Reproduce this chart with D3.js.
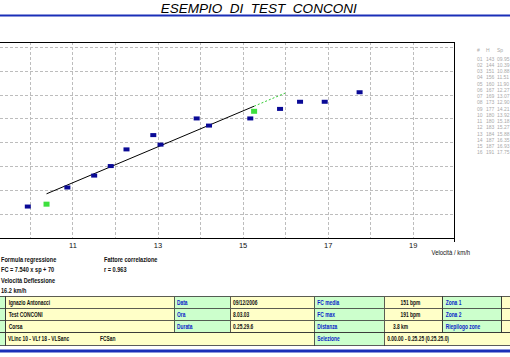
<!DOCTYPE html>
<html><head><meta charset="utf-8">
<script src="https://cdn.jsdelivr.net/npm/d3@7/dist/d3.min.js"></script>
<style>
html,body{margin:0;padding:0;background:#fff;overflow:hidden}
svg{display:block}
</style>
</head><body>
<svg id="chart" width="510" height="357"></svg>
<script>
// ---------- data ----------
const chartTitle = "ESEMPIO  DI  TEST  CONCONI";
const pointIds   = ["01","02","03","04","05","06","07","08","09","10","11","12","13","14","15","16"];
const speed      = [9.95,10.39,10.88,11.51,11.90,12.27,13.07,12.90,14.21,13.92,15.18,15.27,15.88,16.35,16.93,17.75];
const heartRate  = [143,144,151,156,160,167,169,173,177,180,180,183,184,187,187,191];
const regressionIds = ["02","12"];          // green points (regression range)
const regSlope = 7.540, regIntercept = 70;
const regFrom = 10.39, regTo = 15.27, deflectionTo = 16.0;
const xTickValues = [11,13,15,17,19];
const xGridValues = [10,11,12,13,14,15,16,17,18,19];
const yGridValues = [140,150,160,170,180,190,200,210];
const xAxisTitle = "Velocità / km/h";
const tableHeader = ["#","H","Sp"];
const regressionInfo = ["Formula regressione","FC = 7.540 x sp + 70","Velocità Deflessione","16.2 km/h"];
const correlationInfo = ["Fattore correlazione","r = 0.963"];
const infoRows = [
  ["Ignazio Antonacci","Data","09/12/2006","FC media","151 bpm","Zona 1"],
  ["Test CONCONI","Ora","8.03.03","FC max","191 bpm","Zona 2"],
  ["Corsa","Durata","0.25.29.6","Distanza","3.8 km","Riepilogo zone"]
];
const lastRow = ["VLinc 10 - VLf 18 - VLSanc","FCSan","Selezione","0.00.00 - 0.25.25 (0.25.25.0)"];

// ---------- setup ----------
const svg = d3.select("#chart");
const FONT = "'Liberation Sans', Arial, sans-serif";
const BLUE = "#1a2fb8", GREEN_BG = "#ccffcc", YELLOW_BG = "#ffffc8", LABEL_BLUE = "#0a1ec8";

const x = d3.scaleLinear().domain([9,20]).range([-12.6,455.3]);
const y = d3.scaleLinear().domain([130,210]).range([237.5,47]);
const plotLeft = 0, plotRight = x(20), plotTop = y(212), plotBottom = y(130);

function small(g, px, py, str, o = {}) {
  return g.append("text")
    .attr("transform", `translate(${px},${py}) scale(${o.sx || 0.8},1)`)
    .attr("font-family", FONT)
    .attr("font-size", o.size || 7)
    .attr("font-weight", o.weight || "bold")
    .attr("fill", o.fill || "#111")
    .attr("text-anchor", o.anchor || "start")
    .text(str);
}

// title + blue rule
svg.append("text").attr("x", 258.7).attr("y", 12.5)
  .attr("text-anchor","middle").attr("font-family", FONT)
  .attr("font-size", 13).attr("font-style","italic").attr("fill","#000")
  .attr("textLength", 196).attr("lengthAdjust","spacingAndGlyphs")
  .style("white-space","pre")
  .text(chartTitle);
svg.append("rect").attr("x",0).attr("y",14.5).attr("width",510).attr("height",2).attr("fill",BLUE);

// grid
const grid = svg.append("g").attr("stroke","#bdbdbd").attr("stroke-width",1)
  .attr("stroke-dasharray","3,2").attr("shape-rendering","crispEdges");
grid.selectAll("line.v").data(xGridValues).join("line")
  .attr("x1", d => Math.round(x(d))+0.5).attr("x2", d => Math.round(x(d))+0.5)
  .attr("y1", plotTop).attr("y2", plotBottom);
grid.selectAll("line.h").data(yGridValues).join("line")
  .attr("x1", plotLeft).attr("x2", plotRight)
  .attr("y1", d => Math.round(y(d))+0.5).attr("y2", d => Math.round(y(d))+0.5);

// frame
const frame = svg.append("g").attr("stroke","#000").attr("stroke-width",1).attr("shape-rendering","crispEdges");
frame.append("line").attr("x1",0).attr("x2",plotRight).attr("y1",Math.round(plotTop)+0.5).attr("y2",Math.round(plotTop)+0.5);
frame.append("line").attr("x1",0).attr("x2",plotRight).attr("y1",Math.round(plotBottom)+0.5).attr("y2",Math.round(plotBottom)+0.5);
frame.append("line").attr("x1",Math.round(plotRight)-0.5).attr("x2",Math.round(plotRight)-0.5).attr("y1",plotTop).attr("y2",plotBottom+4);

// x axis labels
const xAxis = d3.axisBottom(x).tickValues(xTickValues).tickSize(0).tickPadding(6);
const ax = svg.append("g").attr("transform",`translate(0,${plotBottom})`).call(xAxis);
ax.select(".domain").remove();
ax.selectAll("text").attr("font-family",FONT).attr("font-size",7.5).attr("fill","#111").attr("dy","0.55em");
small(svg, 431.5, 255, xAxisTitle, {weight:"normal", size:7, sx:0.85});

// regression line + extension
svg.append("line")
  .attr("x1", x(regFrom)).attr("y1", y(regSlope*regFrom+regIntercept))
  .attr("x2", x(regTo)).attr("y2", y(regSlope*regTo+regIntercept))
  .attr("stroke","#000").attr("stroke-width",1);
svg.append("line")
  .attr("x1", x(regTo)).attr("y1", y(regSlope*regTo+regIntercept))
  .attr("x2", x(deflectionTo)).attr("y2", y(regSlope*deflectionTo+regIntercept))
  .attr("stroke","#33cc33").attr("stroke-width",1).attr("stroke-dasharray","2,2");

// points
const pts = pointIds.map((id,i) => ({id, s: speed[i], h: heartRate[i], reg: regressionIds.includes(id)}));
svg.append("g").selectAll("rect").data(pts).join("rect")
  .attr("x", d => x(d.s) - 3).attr("y", d => y(d.h) - (d.reg ? 2.5 : 2))
  .attr("width", 6).attr("height", d => d.reg ? 5 : 4)
  .attr("fill", d => d.reg ? "#3ee03e" : "#0a0a96");

// right data table
const tg = svg.append("g");
const tcols = [477, 486, 497];
tableHeader.forEach((t,j) => small(tg, tcols[j], 52, t, {size:5, weight:"normal", fill:"#aaa", sx:1}));
pts.forEach((d,i) => {
  const yy = 60.5 + i*6.25;
  small(tg, tcols[0], yy, d.id, {size:5, weight:"normal", fill:"#aaa", sx:1});
  small(tg, tcols[1], yy, d.h, {size:5, weight:"normal", fill:"#aaa", sx:1});
  small(tg, tcols[2], yy, d3.format("05.2f")(d.s), {size:5, weight:"normal", fill:"#aaa", sx:1});
});

// regression info text
const info = svg.append("g");
regressionInfo.forEach((t,i) => small(info, 1, 262.3 + i*10.1, t));
correlationInfo.forEach((t,i) => small(info, 104, 262.3 + i*10, t));

// info table
const tbl = svg.append("g");
const colEdges = [-20, 5.7, 174, 230, 314.3, 384.3, 442.7, 501.7, 530];
const rowTops = [296, 308.3, 320.3, 332.5, 345];
const cellFill = c => (c % 2 === 0) ? GREEN_BG : YELLOW_BG;
function cell(x0, x1, r, fill) {
  tbl.append("rect").attr("x", x0).attr("y", rowTops[r]).attr("width", x1-x0).attr("height", rowTops[r+1]-rowTops[r])
    .attr("fill", fill).attr("stroke","#333").attr("stroke-width",0.8).attr("shape-rendering","crispEdges");
}
infoRows.forEach((row, r) => {
  for (let c = 0; c < colEdges.length-1; c++) cell(colEdges[c], colEdges[c+1], r, cellFill(c));
  row.forEach((t, k) => {
    const c = k + 1;
    const isLabel = c % 2 === 0;
    let px = colEdges[c] + 3;
    if (c === 5) px = (t.length < 7) ? 393 : 400.5;
    small(tbl, px, rowTops[r] + 8.6, t, {size:6.5, sx:0.75, fill: isLabel ? LABEL_BLUE : "#111"});
  });
});
// last row
cell(colEdges[0], colEdges[1], 3, GREEN_BG);
cell(colEdges[1], colEdges[4], 3, YELLOW_BG);
cell(colEdges[4], colEdges[5], 3, GREEN_BG);
cell(colEdges[5], colEdges[8], 3, YELLOW_BG);
small(tbl, 8, rowTops[3] + 8.8, lastRow[0], {size:6.5, sx:0.75});
small(tbl, 100, rowTops[3] + 8.8, lastRow[1], {size:6.5, sx:0.75});
small(tbl, colEdges[4] + 3, rowTops[3] + 8.8, lastRow[2], {size:6.5, sx:0.75, fill: LABEL_BLUE});
small(tbl, colEdges[5] + 3, rowTops[3] + 8.8, lastRow[3], {size:6.5, sx:0.75});

// bottom blue rule
svg.append("rect").attr("x",0).attr("y",349.5).attr("width",510).attr("height",3).attr("fill",BLUE);
</script>
</body></html>
